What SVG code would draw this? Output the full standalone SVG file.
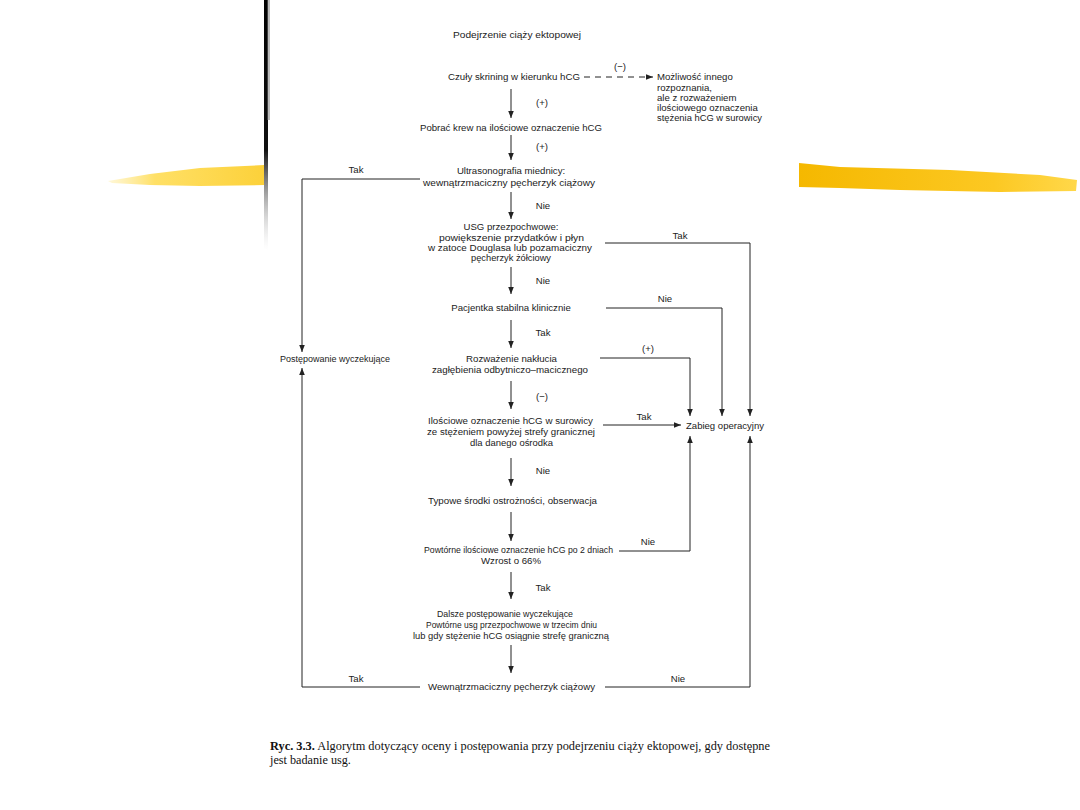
<svg xmlns="http://www.w3.org/2000/svg" width="1080" height="810" viewBox="0 0 1080 810">
<defs>
<marker id="ah" markerWidth="8" markerHeight="8" refX="7" refY="4" orient="auto" markerUnits="userSpaceOnUse"><path d="M0,1.2 L7,4 L0,6.8 Z" fill="#222"/></marker>
<linearGradient id="bar" x1="0" y1="0" x2="0" y2="1"><stop offset="0" stop-color="#000"/><stop offset="0.6" stop-color="#111"/><stop offset="1" stop-color="#bbb" stop-opacity="0"/></linearGradient>
<linearGradient id="yl" x1="0" y1="0" x2="1" y2="0"><stop offset="0" stop-color="#ffe680" stop-opacity="0.3"/><stop offset="0.3" stop-color="#ffe066"/><stop offset="1" stop-color="#fcd13a"/></linearGradient>
<linearGradient id="yr" x1="0" y1="0" x2="1" y2="0"><stop offset="0" stop-color="#f5b800"/><stop offset="0.7" stop-color="#fcc822"/><stop offset="1" stop-color="#ffd84a"/></linearGradient>
</defs>
<style>
text{font-family:"Liberation Sans",Arial,sans-serif;font-size:9.6px;fill:#222}
.c{text-anchor:middle}
.cap{font-family:"Liberation Serif","Times New Roman",serif;font-size:12.2px;fill:#111}
.ln{fill:none;stroke:#222;stroke-width:1}
.ar{fill:none;stroke:#222;stroke-width:1;marker-end:url(#ah)}
.da{fill:none;stroke:#222;stroke-width:1;stroke-dasharray:6,5;marker-end:url(#ah)}
</style>
<rect width="1080" height="810" fill="#fff"/>
<g id="decor">
<rect x="264" y="0" width="4" height="250" fill="url(#bar)"/>
<rect x="267" y="0" width="3" height="120" fill="#777" opacity="0.5"/>
<path d="M108,181 L150,174 L200,168 L264,165 L264,185 L200,186 L150,185 L112,183 Z" fill="url(#yl)"/>
<path d="M799,163 L840,167 L950,170 L1040,175 L1077,180 L1076,191 L1000,192 L900,190 L840,188 L799,187 Z" fill="url(#yr)"/>
</g>
<g id="connectors">
<path class="da" d="M584,77 L653,77"/>
<path class="ar" d="M511,89 L511,118"/>
<path class="ar" d="M511,135 L511,160"/>
<path class="ln" d="M420,179 L302,179"/>
<path class="ar" d="M302,179 L302,352"/>
<path class="ar" d="M511,192 L511,219"/>
<path class="ln" d="M605,243 L750,243"/>
<path class="ar" d="M750,243 L750,416"/>
<path class="ar" d="M511,267 L511,294"/>
<path class="ln" d="M606,308 L722,308"/>
<path class="ar" d="M722,308 L722,416"/>
<path class="ar" d="M511,320 L511,348"/>
<path class="ln" d="M600,358 L690,358"/>
<path class="ar" d="M690,358 L690,416"/>
<path class="ar" d="M511,381 L511,409"/>
<path class="ar" d="M603,425 L681,425"/>
<path class="ar" d="M511,458 L511,486"/>
<path class="ar" d="M511,512 L511,541"/>
<path class="ln" d="M619,551 L690,551"/>
<path class="ar" d="M690,551 L690,436"/>
<path class="ar" d="M511,572 L511,599"/>
<path class="ar" d="M511,645 L511,673"/>
<path class="ln" d="M420,687 L302,687"/>
<path class="ar" d="M302,687 L302,368"/>
<path class="ln" d="M605,687 L750,687"/>
<path class="ar" d="M750,687 L750,436"/>
</g>
<g id="labels">
<text x="620" y="70" class="c">(−)</text>
<text x="542" y="106" class="c">(+)</text>
<text x="542" y="150" class="c">(+)</text>
<text x="356" y="173" class="c">Tak</text>
<text x="543" y="209" class="c">Nie</text>
<text x="680" y="239" class="c">Tak</text>
<text x="543" y="284" class="c">Nie</text>
<text x="665" y="302" class="c">Nie</text>
<text x="543" y="336" class="c">Tak</text>
<text x="648" y="352" class="c">(+)</text>
<text x="542" y="400" class="c">(−)</text>
<text x="644" y="420" class="c">Tak</text>
<text x="543" y="474" class="c">Nie</text>
<text x="648" y="545" class="c">Nie</text>
<text x="543" y="591" class="c">Tak</text>
<text x="356" y="682" class="c">Tak</text>
<text x="678" y="682" class="c">Nie</text>
</g>
<g id="n-start"><text x="453" y="38" textLength="128" lengthAdjust="spacingAndGlyphs">Podejrzenie ciąży ektopowej</text></g>
<g id="n-screen"><text x="448" y="80" textLength="132" lengthAdjust="spacingAndGlyphs">Czuły skrining w kierunku hCG</text></g>
<g id="n-other"><text x="657" y="80">Możliwość innego</text><text x="657" y="91">rozpoznania,</text><text x="657" y="101">ale z rozważeniem</text><text x="657" y="111">ilościowego oznaczenia</text><text x="657" y="121" textLength="105" lengthAdjust="spacingAndGlyphs">stężenia hCG w surowicy</text></g>
<g id="n-blood"><text x="420" y="131" textLength="182" lengthAdjust="spacingAndGlyphs">Pobrać krew na ilościowe oznaczenie hCG</text></g>
<g id="n-usg1"><text x="511" y="174" class="c">Ultrasonografia miednicy:</text><text x="423" y="186" textLength="172" lengthAdjust="spacingAndGlyphs">wewnątrzmaciczny pęcherzyk ciążowy</text></g>
<g id="n-usg2"><text x="511" y="230" class="c">USG przezpochwowe:</text><text x="439" y="241" textLength="145" lengthAdjust="spacingAndGlyphs">powiększenie przydatków i płyn</text><text x="428" y="251" textLength="164" lengthAdjust="spacingAndGlyphs">w zatoce Douglasa lub pozamaciczny</text><text x="471" y="261" textLength="80" lengthAdjust="spacingAndGlyphs">pęcherzyk żółciowy</text></g>
<g id="n-stable"><text x="511" y="311" class="c">Pacjentka stabilna klinicznie</text></g>
<g id="n-wait"><text x="280" y="362" textLength="110" lengthAdjust="spacingAndGlyphs">Postępowanie wyczekujące</text></g>
<g id="n-punct"><text x="466" y="362" textLength="91" lengthAdjust="spacingAndGlyphs">Rozważenie nakłucia</text><text x="432" y="373" textLength="156" lengthAdjust="spacingAndGlyphs">zagłębienia odbytniczo–macicznego</text></g>
<g id="n-hcg"><text x="428" y="424" textLength="165" lengthAdjust="spacingAndGlyphs">Ilościowe oznaczenie hCG w surowicy</text><text x="427" y="435" textLength="168" lengthAdjust="spacingAndGlyphs">ze stężeniem powyżej strefy granicznej</text><text x="470" y="446" textLength="83" lengthAdjust="spacingAndGlyphs">dla danego ośrodka</text></g>
<g id="n-surgery"><text x="686" y="429" textLength="78" lengthAdjust="spacingAndGlyphs">Zabieg operacyjny</text></g>
<g id="n-obs"><text x="428" y="504" textLength="169" lengthAdjust="spacingAndGlyphs">Typowe środki ostrożności, obserwacja</text></g>
<g id="n-repeat"><text x="424" y="553" textLength="189" lengthAdjust="spacingAndGlyphs">Powtórne ilościowe oznaczenie hCG po 2 dniach</text><text x="481" y="564" textLength="60" lengthAdjust="spacingAndGlyphs">Wzrost o 66%</text></g>
<g id="n-further"><text x="437" y="617" textLength="136" lengthAdjust="spacingAndGlyphs">Dalsze postępowanie wyczekujące</text><text x="426" y="628" textLength="171" lengthAdjust="spacingAndGlyphs">Powtórne usg przezpochwowe w trzecim dniu</text><text x="413" y="639" textLength="196" lengthAdjust="spacingAndGlyphs">lub gdy stężenie hCG osiągnie strefę graniczną</text></g>
<g id="n-final"><text x="428" y="690" textLength="167" lengthAdjust="spacingAndGlyphs">Wewnątrzmaciczny pęcherzyk ciążowy</text></g>
<g id="caption">
<text class="cap" x="270" y="750" textLength="500" lengthAdjust="spacingAndGlyphs"><tspan font-weight="bold">Ryc. 3.3.</tspan> Algorytm dotyczący oceny i postępowania przy podejrzeniu ciąży ektopowej, gdy dostępne</text>
<text class="cap" x="270" y="764">jest badanie usg.</text>
</g>
</svg>
